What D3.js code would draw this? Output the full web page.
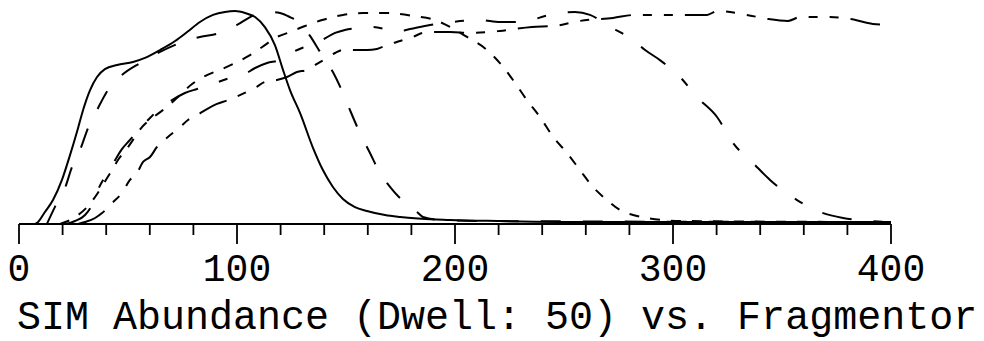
<!DOCTYPE html>
<html>
<head>
<meta charset="utf-8">
<title>SIM Abundance vs. Fragmentor</title>
<style>
  body { margin: 0; background: #fff; }
  .curve { fill: none; stroke: #000; stroke-width: 2px; }
  .tick-label, .title { font-family: "Liberation Mono", "Courier New", monospace; fill: #000; }
</style>
</head>
<body>
<script src="https://cdn.jsdelivr.net/npm/d3@7"></script>
<script>
// x = fragmentor voltage, y = relative abundance (%)
var solidTrace = [[7.3,0],[8.3,0.5],[11.9,5.6],[15.6,11.2],[19.7,20.6],[23.4,32.2],[27.1,44.9],[29.4,53.3],[32.6,62.6],[35.8,68.7],[39.4,72.4],[45,74.3],[52.3,75.7],[57.8,77.6],[64.7,81.3],[71.6,85.5],[77.1,89.7],[83,94.4],[89,97.7],[94.5,99.1],[99.1,99.5],[103.7,98.6],[108.3,96.7],[112.8,92],[117.4,83.6],[121.1,72],[124.3,62.6],[128.9,51.9],[134.9,35.5],[139.4,25.2],[144,17.3],[148.6,11.7],[154.1,7.9],[159.6,6.1],[167.9,4.2],[174.8,3.3],[197.7,1.9],[220.6,1.4],[266.5,0.9],[312.4,0.9],[400,0.9]];

var longDashTrace = [[12.8,0],[16.5,8],[21.1,16.8],[24.3,26.6],[28,34.6],[31.7,44.9],[35.8,53.3],[40.8,62.6],[47.2,69.6],[55.5,75.2],[64.7,80.4],[73.9,84.6],[83,87.4],[92.2,89.3],[100,93],[106,96.7],[110.6,98.6],[115.1,99.1],[119.7,98.6],[124.3,96.7],[128.9,94],[133.5,87.9],[138.1,80.4],[144,71],[148.6,61.2],[151.8,53.3],[156.4,42.5],[161,33.2],[165.6,23.8],[170.2,17.3],[174.8,12.1],[178,9.8],[182.6,5.6],[185.3,3.3],[193.1,1.9],[211.5,1.4],[400,0.9]];

var shortDashTrace = [[18.8,0],[22.5,1.4],[27.1,4.2],[31.7,8.4],[34.9,12.6],[39,19.2],[42.7,25.2],[45.4,29.9],[49.1,34.6],[52.3,39.3],[56.4,45.3],[62.4,50.5],[67.9,54.7],[72.9,59.3],[79.4,65.4],[86.2,69.6],[92.2,72],[99.1,75.2],[103.7,77.6],[108.3,80.4],[112.8,83.6],[117.4,86.9],[124.3,89.7],[131.2,92.5],[139,95.3],[148.6,97.7],[157.8,98.6],[167.9,98.6],[174.8,98.1],[180.7,97.2],[190.8,95.3],[197.7,92.1],[205.5,87.4],[214.7,81.3],[220.6,75.2],[226.6,67.3],[233,57.9],[239,50],[245,40.7],[251.4,33.2],[257.3,25.2],[263.3,17.3],[269.7,11.2],[275.7,6.5],[281.7,4.2],[288.1,2.8],[303.2,1.4],[400,0.9]];

var dashDotTrace = [[21.6,0],[25.7,1.4],[30.3,4.2],[33.5,8.9],[36.2,15.9],[39.4,22],[43.6,29],[47.2,35],[50.9,39.3],[55.5,44.9],[60.1,49.5],[64.7,54.2],[70.2,57.9],[76.1,61.2],[81.7,63.1],[87.6,65],[96.8,68.2],[102.8,69.6],[108.3,72.9],[113.8,75.2],[119.7,76.6],[125.7,80.4],[132.1,83.2],[139,86],[145,89.3],[149.5,90.7],[156.4,91.6],[162.4,92.1],[167.9,91.1],[172.5,89.7],[179.4,91.1],[188.5,93],[198.6,94.4],[211.5,95.3],[220.6,94.4],[229.8,94.4],[235.3,95.3],[241.3,97.2],[248.2,98.6],[255,99.1],[261.9,97.7],[266.5,95.3],[271.1,92.1],[275.7,89.7],[281.7,86],[287.2,81.3],[294,76.6],[303.2,68.7],[311,59.3],[320.2,50],[327.5,37.9],[336.7,28.5],[344.5,20.6],[356.9,11.2],[367.4,5.6],[378,2.8],[390.4,1.4],[400,0.9]];

var dashDotDotTrace = [[27.1,0],[30.3,0.9],[34.9,2.8],[38.1,5.1],[42.7,9.8],[47.2,14.5],[50.9,20.6],[54.1,23.8],[56.9,29],[60.1,31.3],[63.3,36],[68.3,40.7],[73.9,45.3],[77.5,48.6],[81.7,50.9],[86.2,53.7],[90.8,56.1],[95.9,57.9],[102.3,60.7],[108.3,63.6],[112.8,66.4],[118.3,67.3],[122.9,68.7],[127.5,71],[132.1,72],[136.7,74.8],[141.3,77.6],[145,79.9],[148.6,81.3],[154.1,81.3],[159.6,81.3],[164.2,81.8],[168.8,83.6],[174.8,85.5],[180.7,87.4],[185.3,89.3],[189.9,89.7],[197.7,89.7],[206.9,89.3],[220.6,90.2],[235.3,92.1],[245,92.5],[257.3,94.9],[272.5,96.3],[282.6,97.7],[295.4,97.7],[306.4,97.7],[315.6,97.7],[320.2,99.5],[333.9,97.7],[343.6,95.8],[352.8,94.9],[358.3,96.7],[372,96.7],[381.2,95.8],[391.7,93.5],[400,93]];

var traces = [solidTrace, longDashTrace, shortDashTrace, dashDotTrace, dashDotDotTrace];
var dashes = [null, "20,22", "10,11", "30,22,9,22", "30,12,9,12,9,12"];

var majorTicks = [0, 100, 200, 300, 400];
var minorTicks = d3.range(0, 401, 20);
var titleText = "SIM Abundance (Dwell: 50) vs. Fragmentor";

var width = 984, height = 341;

var x = d3.scaleLinear().domain([0, 400]).range([19, 891]);
var y = d3.scaleLinear().domain([0, 100]).range([224, 10]);

var svg = d3.select("body").append("svg")
    .attr("width", width)
    .attr("height", height);

var line = d3.line()
    .x(d => x(d[0]))
    .y(d => y(d[1]))
    .curve(d3.curveMonotoneX);

svg.append("g")
    .selectAll("path")
    .data(traces)
    .join("path")
    .attr("class", "curve")
    .attr("d", line)
    .attr("stroke-dasharray", (d, i) => dashes[i]);

// axis: baseline with long ticks every 100, short ones every 20
var axis = svg.append("g").attr("stroke", "#000");

axis.append("line")
    .attr("x1", x(0)).attr("x2", x(400))
    .attr("y1", y(0)).attr("y2", y(0))
    .attr("stroke-width", 2);

axis.selectAll("line.minor")
    .data(minorTicks)
    .join("line")
    .attr("class", "minor")
    .attr("x1", d => x(d)).attr("x2", d => x(d))
    .attr("y1", y(0))
    .attr("y2", d => majorTicks.includes(d) ? y(0) + 20 : y(0) + 11)
    .attr("stroke-width", 1.8);

svg.selectAll("text.tick-label")
    .data(majorTicks)
    .join("text")
    .attr("class", "tick-label")
    .attr("x", d => x(d))
    .attr("y", 281)
    .attr("text-anchor", "middle")
    .attr("font-size", 38)
    .text(d => d);

svg.append("text")
    .attr("class", "title")
    .attr("x", 17)
    .attr("y", 329)
    .attr("font-size", 40)
    .text(titleText);
</script>
</body>
</html>
